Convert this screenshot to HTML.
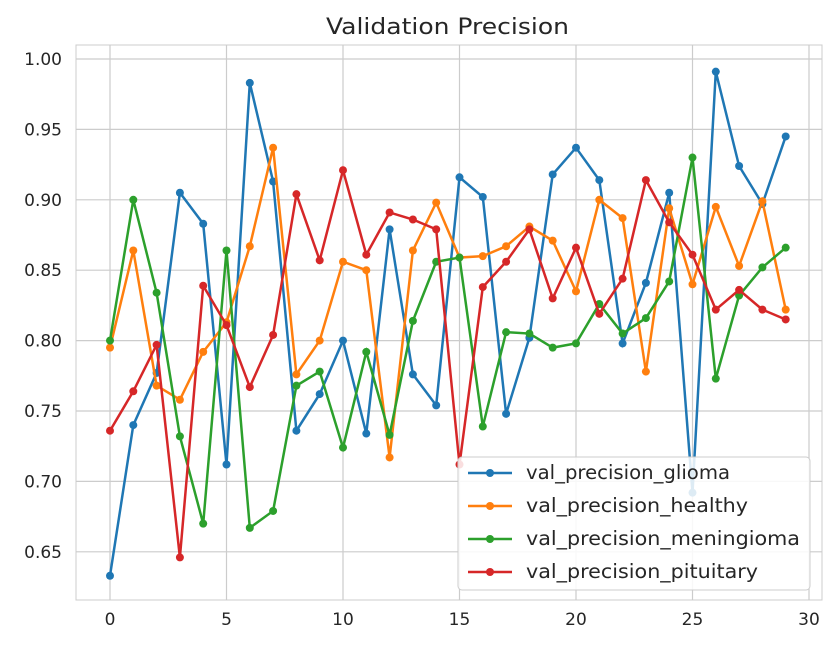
<!DOCTYPE html>
<html><head><meta charset="utf-8"><style>
body{margin:0;background:#fff;font-family:"DejaVu Sans","Liberation Sans",sans-serif}
svg text{font-family:"DejaVu Sans","Liberation Sans",sans-serif;fill:#262626}
</style></head><body>
<svg id="chart" width="837" height="650" xmlns="http://www.w3.org/2000/svg">
<text x="326" y="34" font-size="22.5" textLength="243" lengthAdjust="spacingAndGlyphs">Validation Precision</text>
<rect x="76" y="45" width="746" height="555" fill="#fff" stroke="#cccccc"/>
<g id="grid"></g><g id="series"></g><g id="legend"></g>
</svg>
<script>
const epochs=[...Array(30).keys()];
const glioma=[0.633,0.740,0.777,0.905,0.883,0.712,0.983,0.913,0.736,0.762,0.800,0.734,0.879,0.776,0.754,0.916,0.902,0.748,0.802,0.918,0.937,0.914,0.798,0.841,0.905,0.692,0.991,0.924,0.897,0.945];
const healthy=[0.795,0.864,0.768,0.758,0.792,0.813,0.867,0.937,0.776,0.800,0.856,0.850,0.717,0.864,0.898,0.859,0.860,0.867,0.881,0.871,0.835,0.900,0.887,0.778,0.894,0.840,0.895,0.853,0.899,0.822];
const meningioma=[0.800,0.900,0.834,0.732,0.670,0.864,0.667,0.679,0.768,0.778,0.724,0.792,0.733,0.814,0.856,0.859,0.739,0.806,0.805,0.795,0.798,0.826,0.805,0.816,0.842,0.930,0.773,0.832,0.852,0.866];
const pituitary=[0.736,0.764,0.797,0.646,0.839,0.811,0.767,0.804,0.904,0.857,0.921,0.861,0.891,0.886,0.879,0.712,0.838,0.856,0.879,0.830,0.866,0.819,0.844,0.914,0.884,0.861,0.822,0.836,0.822,0.815];
const xTicks=[0,5,10,15,20,25,30];
const yTicks=[0.65,0.70,0.75,0.80,0.85,0.90,0.95,1.00];
const seriesNames=["val_precision_glioma","val_precision_healthy","val_precision_meningioma","val_precision_pituitary"];
const legendWidths=[204,222,274,232];
const colors=["#1f77b4","#ff7f0e","#2ca02c","#d62728"];
const NS="http://www.w3.org/2000/svg";
const xs=v=>110+v*(699/30);
const ys=v=>59+(1-v)*1408;
function mk(tag,attrs,parent){const e=document.createElementNS(NS,tag);for(const k in attrs)e.setAttribute(k,attrs[k]);parent.appendChild(e);return e;}
const grid=document.getElementById('grid');
xTicks.forEach(t=>{
 const l=mk('line',{x1:xs(t),x2:xs(t),y1:45,y2:600,stroke:'#cccccc','stroke-width':1.2},grid);
 
 
 const tx=mk('text',{x:xs(t),y:625,'text-anchor':'middle','font-size':17},grid);tx.textContent=t;
 
 
});
yTicks.forEach(t=>{
 const l=mk('line',{x1:76,x2:822,y1:ys(t),y2:ys(t),stroke:'#cccccc','stroke-width':1.2},grid);
 
 
 const tx=mk('text',{x:62,y:ys(t)+6,'text-anchor':'end','font-size':17},grid);tx.textContent=t.toFixed(2);
 
 
});
const sg=document.getElementById('series');
[glioma,healthy,meningioma,pituitary].forEach((d,i)=>{
 const g=mk('g',{},sg);
 
 
 const p=mk('polyline',{points:d.map((v,j)=>xs(epochs[j])+','+ys(v)).join(' '),fill:'none',stroke:colors[i],'stroke-width':2.5},g);
 
 
 d.forEach((v,j)=>{const c=mk('circle',{cx:xs(epochs[j]),cy:ys(v),r:4,fill:colors[i]},g);
 
 });
});
const lg=document.getElementById('legend');


mk('rect',{x:458,y:457,width:352,height:133,rx:4,fill:'#fff','fill-opacity':0.85,stroke:'#cccccc'},lg);
seriesNames.forEach((n,i)=>{
 const y=473+i*33;
 const g=mk('g',{},lg);
 
 
 mk('line',{x1:468,x2:512,y1:y,y2:y,stroke:colors[i],'stroke-width':2.5},g);
 mk('circle',{cx:490,cy:y,r:4,fill:colors[i]},g);
 const t=mk('text',{x:526,y:y+6,'font-size':19.5,textLength:legendWidths[i],lengthAdjust:'spacingAndGlyphs'},g);t.textContent=n;
});
</script>
</body></html>
